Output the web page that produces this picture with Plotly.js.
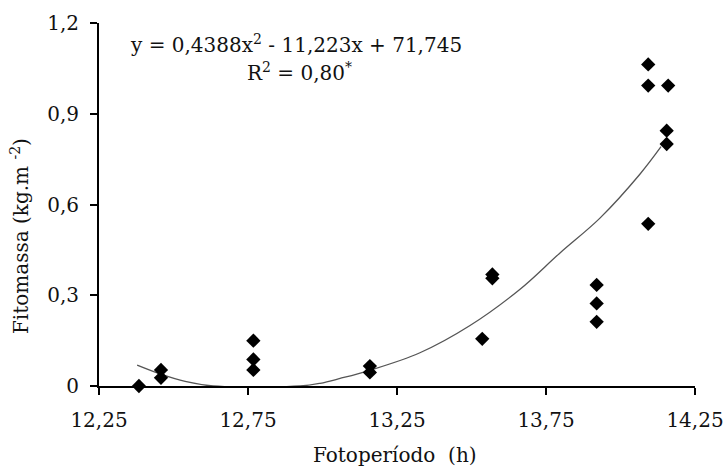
<!DOCTYPE html>
<html>
<head>
<meta charset="utf-8">
<script src="https://cdn.plot.ly/plotly-3.0.1.min.js"></script>
<style>html,body{margin:0;padding:0;background:#fff;}#chart{width:725px;height:467px;}</style>
</head>
<body>
<div id="chart"></div>
<script>
// Observed data (photoperiod h, phytomass kg.m-2)
const photoperiod = [12.384, 12.458, 12.458, 12.768, 12.768, 12.768, 13.159, 13.159, 13.536, 13.57, 13.57, 13.92, 13.92, 13.92, 14.093, 14.093, 14.093, 14.16, 14.155, 14.155];
const phytomass   = [0.0,    0.053,  0.027,  0.15,   0.088,  0.053,  0.066,  0.045,  0.156,  0.369, 0.356, 0.334, 0.273, 0.212, 1.063,  0.993,  0.536,  0.993, 0.844,  0.80];
// Trend curve
const curveX = [12.378, 12.455, 12.539, 12.633, 12.925, 12.992, 13.059, 13.159, 13.327, 13.495, 13.663, 13.797, 13.931, 14.065, 14.136];
const curveY = [0.069,  0.04,   0.015,  0.0,    0.0,    0.009,  0.025,  0.052,  0.11,   0.20,   0.32,   0.44,   0.555,  0.70,   0.791];
// Axis ticks
const xTicks = [12.25, 12.75, 13.25, 13.75, 14.25];
const yTicks = [0, 0.3, 0.6, 0.9, 1.2];

const FONT = 'DejaVu Serif';
const FS = 20;
const traces = [
  {x: curveX, y: curveY, type: 'scatter', mode: 'lines',
   line: {color: '#555', width: 1.3, shape: 'spline', smoothing: 1}, hoverinfo: 'skip'},
  {x: photoperiod, y: phytomass, type: 'scatter', mode: 'markers', cliponaxis: false,
   marker: {symbol: 'diamond', size: 11, color: '#000'}}
];
const layout = {
  width: 725, height: 467,
  margin: {l: 99, r: 30, t: 23, b: 81},
  paper_bgcolor: '#fff', plot_bgcolor: '#fff',
  separators: ', ',
  showlegend: false,
  font: {family: FONT, size: FS, color: '#111'},
  xaxis: {range: [12.25, 14.25], tickvals: xTicks, tickformat: '.2f',
    showline: true, linecolor: '#000', linewidth: 2, showgrid: false, zeroline: false,
    ticks: 'outside', ticklen: 7, tickwidth: 2, tickcolor: '#000', ticklabelstandoff: 8,
    ticklabeloverflow: 'allow',
    tickfont: {family: FONT, size: FS, color: '#111'}},
  yaxis: {range: [0, 1.2], tickvals: yTicks, tickformat: '.1~f',
    showline: true, linecolor: '#000', linewidth: 2, showgrid: false, zeroline: false,
    ticks: 'outside', ticklen: 7, tickwidth: 2, tickcolor: '#000', ticklabelstandoff: 7,
    tickfont: {family: FONT, size: FS, color: '#111'}},
  annotations: [
    {xref: 'paper', yref: 'paper', x: 0.0487, y: 0.942, xanchor: 'left', yanchor: 'middle', showarrow: false,
     text: 'y = 0,4388x<sup>2</sup> - 11,223x + 71,745', font: {family: FONT, size: FS, color: '#111'}},
    {xref: 'paper', yref: 'paper', x: 0.245, y: 0.865, xanchor: 'left', yanchor: 'middle', showarrow: false,
     text: 'R<sup>2</sup> = 0,80<sup>*</sup>', font: {family: FONT, size: FS, color: '#111'}},
    {xref: 'paper', yref: 'paper', x: 0.4966, y: -0.19, xanchor: 'center', yanchor: 'middle', showarrow: false,
     text: 'Fotoperíodo  (h)', font: {family: FONT, size: FS, color: '#111'}},
    {xref: 'paper', yref: 'paper', x: -0.1326, y: 0.413, xanchor: 'center', yanchor: 'middle', showarrow: false,
     textangle: -90, text: 'Fitomassa (kg.m <sup>-2</sup>)', font: {family: FONT, size: FS, color: '#111'}}
  ]
};
Plotly.newPlot('chart', traces, layout, {displayModeBar: false, staticPlot: true});
</script>
</body>
</html>
